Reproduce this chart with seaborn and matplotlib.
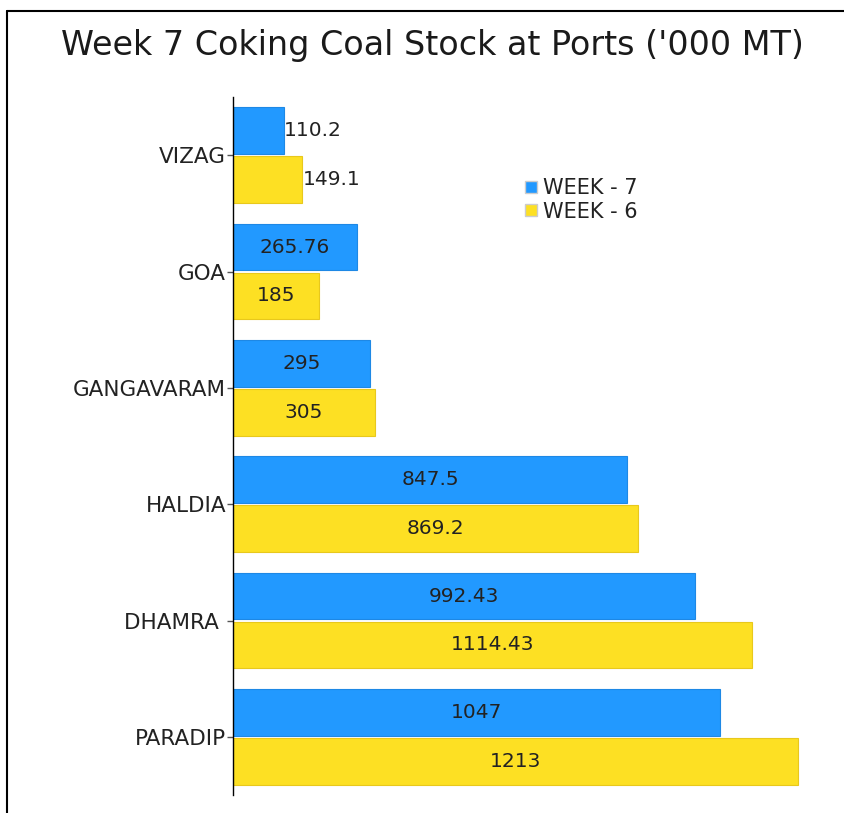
import matplotlib
matplotlib.use("Agg")
import matplotlib.pyplot as plt
import pandas as pd
import seaborn as sns
from matplotlib.patches import Patch
from matplotlib.lines import Line2D

# values ('000 MT)
ports = ["VIZAG", "GOA", "GANGAVARAM", "HALDIA", "DHAMRA ", "PARADIP"]
week7 = [110.2, 265.76, 295, 847.5, 992.43, 1047]
week6 = [149.1, 185, 305, 869.2, 1114.43, 1213]
week7_labels = ["110.2", "265.76", "295", "847.5", "992.43", "1047"]
week6_labels = ["149.1", "185", "305", "869.2", "1114.43", "1213"]
series = ["WEEK - 7", "WEEK - 6"]

blue = "#2299FF"
yellow = "#FDE023"

df = pd.DataFrame({
    "port": ports * 2,
    "stock": week7 + week6,
    "week": [series[0]] * len(ports) + [series[1]] * len(ports),
})

sns.set_style("white")
plt.rcParams["font.family"] = ["DejaVu Sans"]

fig = plt.figure(figsize=(8.44, 8.13), dpi=100)
ax = fig.add_axes([233 / 844, 1 - 795 / 813, (838 - 233) / 844, (795 - 97) / 813])

sns.barplot(data=df, x="stock", y="port", hue="week", order=ports,
            hue_order=series, palette=[blue, yellow], width=0.84,
            saturation=1, legend=False, ax=ax)

for cont, c, labs in zip(ax.containers, ["#1E88E5", "#E8C81C"], [week7_labels, week6_labels]):
    for p in cont.patches:
        p.set_edgecolor(c)
        p.set_linewidth(0.8)
        # small white gap between the paired bars
        h = p.get_height()
        p.set_y(p.get_y() + 0.01)
        p.set_height(h - 0.02)
    inside = [""] + labs[1:]
    ax.bar_label(cont, labels=inside, label_type="center", fontsize=14.5, color="#222222")
    outside = [labs[0]] + [""] * (len(labs) - 1)
    ax.bar_label(cont, labels=outside, label_type="edge", padding=0, fontsize=14.5, color="#222222")

ax.set_xlim(0, 1300)
ax.set_xlabel("")
ax.set_ylabel("")
ax.set_xticks([])
for side in ["top", "right", "bottom"]:
    ax.spines[side].set_visible(False)
ax.spines["left"].set_color("black")
ax.spines["left"].set_linewidth(1)
ax.tick_params(axis="y", which="both", left=True, length=4, width=1, color="#555555",
               labelsize=15.5, labelcolor="#222222", pad=1)

handles = [Patch(facecolor=blue, edgecolor="#cccccc"), Patch(facecolor=yellow, edgecolor="#cccccc")]
fig.legend(handles, series, loc="upper left", bbox_to_anchor=(515 / 844, 1 - 168 / 813),
           frameon=False, fontsize=15, handlelength=0.55, handleheight=0.55,
           handletextpad=0.3, labelspacing=0.15, borderpad=0, labelcolor="#222222")

fig.text(0.512, 1 - 45 / 813, "Week 7 Coking Coal Stock at Ports ('000 MT)",
         ha="center", va="center", fontsize=24, color="#1a1a1a")

# border lines of the cropped chart frame
fig.add_artist(Line2D([7 / 844, 7 / 844], [0, 1 - 11 / 813], color="black", lw=1.5,
                      transform=fig.transFigure))
fig.add_artist(Line2D([7 / 844, 1], [1 - 11 / 813, 1 - 11 / 813], color="black", lw=1.5,
                      transform=fig.transFigure))

fig.savefig("out.png", dpi=100)
